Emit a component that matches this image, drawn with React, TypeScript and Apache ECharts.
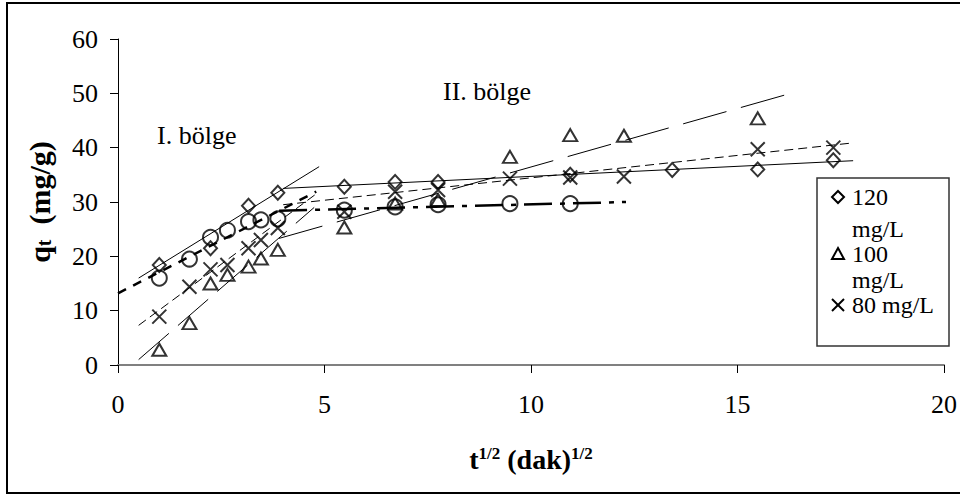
import React, { useEffect, useRef } from "react";
import * as echarts from "echarts";

// ---- data ----
const x120 = [1.0, 2.24, 3.16, 3.87, 5.48, 6.71, 7.75, 10.95, 13.42, 15.49, 17.32];
const y120 = [18.4, 21.5, 29.3, 31.7, 32.8, 33.7, 33.7, 35.0, 35.9, 36.0, 37.7];

const x100 = [1.0, 1.73, 2.24, 2.65, 3.16, 3.46, 3.87, 5.48, 6.71, 7.75, 9.49, 10.95, 12.25, 15.49];
const y100 = [2.8, 7.7, 15.0, 16.6, 18.1, 19.6, 21.2, 25.3, 29.7, 30.4, 38.3, 42.3, 42.2, 45.4];

const x80 = [1.0, 1.73, 2.24, 2.65, 3.16, 3.46, 3.87, 5.48, 6.71, 7.75, 9.49, 10.95, 12.25, 15.49, 17.32];
const y80 = [8.9, 14.4, 17.6, 18.4, 21.5, 23.0, 25.2, 28.2, 31.9, 32.2, 34.3, 34.5, 34.7, 39.7, 40.0];

const x60 = [1.0, 1.73, 2.24, 2.65, 3.16, 3.46, 3.87, 5.48, 6.71, 7.75, 9.49, 10.95];
const y60 = [16.0, 19.5, 23.5, 24.8, 26.4, 26.7, 26.9, 28.5, 29.1, 29.5, 29.7, 29.7];

// trend lines (start, end) in data units
const trend120a = [[0.5, 16.0], [4.87, 36.5]];
const trend120b = [[4.0, 32.5], [17.8, 37.6]];
const trend100a = [[0.5, 1.0], [4.75, 29.0]];
const trend100b = [[3.9, 23.3], [16.43, 50.3]];
const trend80a = [[0.5, 7.3], [4.8, 31.5]];
const trend80b = [[4.0, 29.5], [17.7, 40.8]];
const trend60a = [[0, 13.2], [4.8, 31.9]];
const trend60b = [[3.9, 28.4], [12.3, 30.0]];

const xTicks = [0, 5, 10, 15, 20];
const yTicks = [0, 10, 20, 30, 40, 50, 60];

const legendNames = ["120 mg/L", "100 mg/L", "80 mg/L"];
const regionLabels = ["I. bölge", "II. bölge"];

const SERIF = "'Liberation Serif', 'Times New Roman', serif";

const pairs = (xs: number[], ys: number[]) => xs.map((x, i) => [x, ys[i]]);

export default function App() {
  const ref = useRef<HTMLDivElement>(null);

  useEffect(() => {
    document.documentElement.style.overflow = "hidden";
    document.body.style.margin = "0";
    document.body.style.overflow = "hidden";
    const chart = echarts.init(ref.current!, null, { renderer: "svg" });

    const markerStyle = {
      color: "rgba(0,0,0,0)",
      borderColor: "#000",
      borderWidth: 2,
    };
    const scatter = (name: string, data: number[][], symbol: string, size: any) => ({
      name,
      type: "scatter",
      data,
      symbol,
      symbolSize: size,
      itemStyle: markerStyle,
      z: 5,
    });
    const trend = (data: number[][], width: number, type: any) => ({
      type: "line",
      data,
      symbol: "none",
      silent: true,
      lineStyle: { color: "#000", width, type },
      z: 3,
    });

    const legendText = (text: string, y: number) => ({
      type: "text",
      x: 852,
      y,
      style: { text, font: `24px ${SERIF}`, fill: "#000", verticalAlign: "middle" },
      z: 11,
    });

    const option: any = {
      animation: false,
      backgroundColor: "#fff",
      grid: { left: 118, right: 10, top: 39, bottom: 129 },
      xAxis: {
        type: "value",
        min: xTicks[0],
        max: xTicks[xTicks.length - 1],
        interval: 5,
        splitLine: { show: false },
        axisLine: { lineStyle: { color: "#808080", width: 2 } },
        axisTick: { length: 8, lineStyle: { color: "#000", width: 1 } },
        axisLabel: { color: "#000", fontFamily: SERIF, fontSize: 26, margin: 26 },
        name: "{b|t}{sup|1/2}{b| (dak)}{sup|1/2}",
        nameLocation: "middle",
        nameGap: 80,
        nameTextStyle: {
          rich: {
            b: { fontFamily: SERIF, fontWeight: "bold", fontSize: 28, color: "#000" },
            sup: {
              fontFamily: SERIF,
              fontWeight: "bold",
              fontSize: 17,
              color: "#000",
              verticalAlign: "top",
            },
          },
        },
      },
      yAxis: {
        type: "value",
        min: yTicks[0],
        max: yTicks[yTicks.length - 1],
        interval: 10,
        splitLine: { show: false },
        axisLine: { show: true, lineStyle: { color: "#000", width: 1 } },
        axisTick: { show: true, length: 8, lineStyle: { color: "#000", width: 1 } },
        axisLabel: { color: "#000", fontFamily: SERIF, fontSize: 26, margin: 20 },
        name: "{b|q}{sub|t}{b|  (mg/g)}",
        nameLocation: "middle",
        nameGap: 64,
        nameTextStyle: {
          rich: {
            b: { fontFamily: SERIF, fontWeight: "bold", fontSize: 30, color: "#000" },
            sub: {
              fontFamily: SERIF,
              fontWeight: "bold",
              fontSize: 20,
              color: "#000",
              verticalAlign: "bottom",
            },
          },
        },
      },
      series: [
        trend(trend120a, 1, "solid"),
        trend(trend120b, 1, "solid"),
        trend(trend100a, 1, [40, 12]),
        trend(trend100b, 1, [45, 15]),
        trend(trend80a, 1, [9, 5]),
        trend(trend80b, 1, [9, 5]),
        trend(trend60a, 2.5, [9, 8]),
        trend(trend60b, 2.5, [28, 8, 5, 8]),
        scatter(legendNames[0], pairs(x120, y120), "diamond", [13, 14]),
        scatter(legendNames[1], pairs(x100, y100), "triangle", [14, 12]),
        scatter(legendNames[2], pairs(x80, y80), "path://M0,0L10,10M10,0L0,10", 14),
        scatter("60 mg/L", pairs(x60, y60), "circle", 15),
      ],
      graphic: [
        {
          type: "polyline",
          shape: { points: [[970, 3], [7, 3], [7, 493], [970, 493]] },
          style: { fill: "none", stroke: "#000", lineWidth: 2 },
          silent: true,
        },
        {
          type: "text",
          left: 157,
          top: 122,
          style: { text: regionLabels[0], font: `26px ${SERIF}`, fill: "#000" },
        },
        {
          type: "text",
          left: 443,
          top: 78,
          style: { text: regionLabels[1], font: `26px ${SERIF}`, fill: "#000" },
        },
        // legend box
        {
          type: "rect",
          shape: { x: 817, y: 178, width: 132, height: 168 },
          style: { fill: "#fff", stroke: "#333", lineWidth: 1.5 },
          z: 10,
        },
        {
          type: "polygon",
          shape: { points: [[838, 191], [844, 197], [838, 203], [832, 197]] },
          style: { fill: "none", stroke: "#000", lineWidth: 2 },
          z: 11,
        },
        {
          type: "polygon",
          shape: { points: [[838, 248], [844, 259], [832, 259]] },
          style: { fill: "none", stroke: "#000", lineWidth: 2 },
          z: 11,
        },
        {
          type: "line",
          shape: { x1: 832, y1: 299, x2: 844, y2: 311 },
          style: { stroke: "#000", lineWidth: 2 },
          z: 11,
        },
        {
          type: "line",
          shape: { x1: 844, y1: 299, x2: 832, y2: 311 },
          style: { stroke: "#000", lineWidth: 2 },
          z: 11,
        },
        legendText("120", 197),
        legendText("mg/L", 229),
        legendText("100", 254),
        legendText("mg/L", 280),
        legendText("80 mg/L", 305),
      ],
    };
    chart.setOption(option);
    return () => chart.dispose();
  }, []);

  return (
    <div
      ref={ref}
      style={{ position: "fixed", left: 0, top: 0, width: 960, height: 494 }}
    />
  );
}
